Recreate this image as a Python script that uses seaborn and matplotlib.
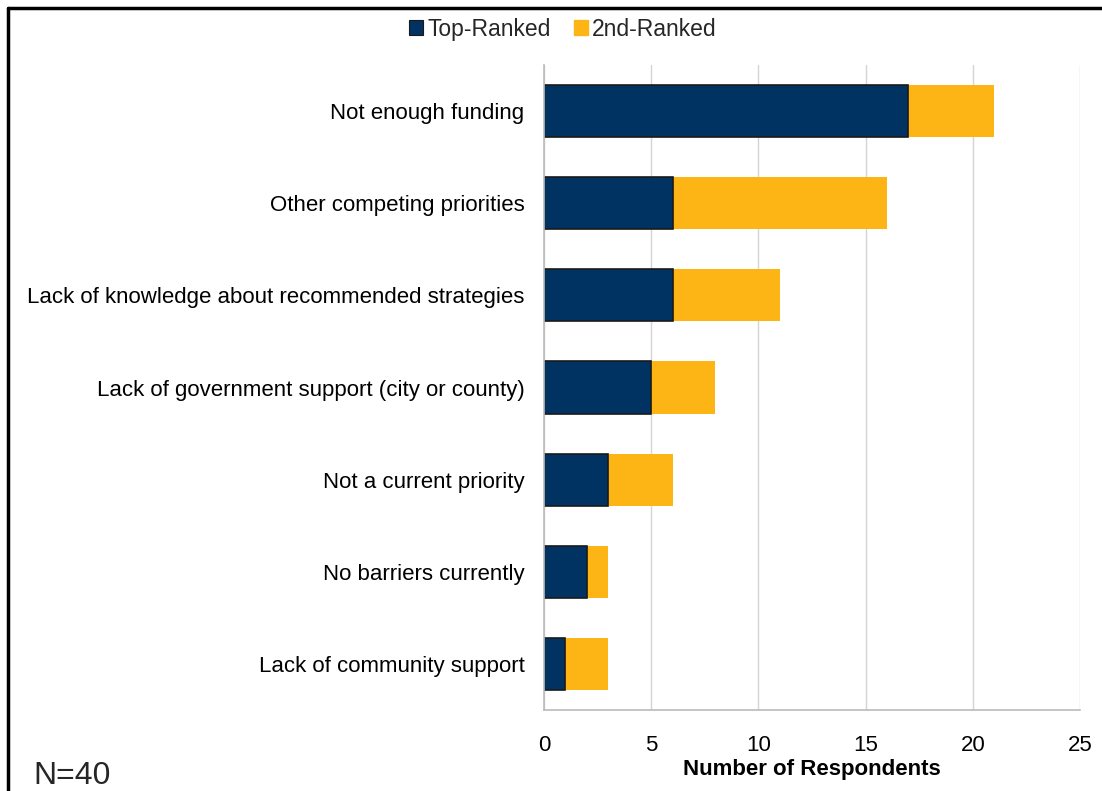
import matplotlib
matplotlib.use("Agg")
import matplotlib.pyplot as plt
import seaborn as sns
import pandas as pd
from matplotlib.lines import Line2D
from matplotlib.patches import Patch

sns.set_theme(style="white")
plt.rcParams["font.family"] = ["Liberation Sans", "DejaVu Sans"]

barriers = [
    "Not enough funding",
    "Other competing priorities",
    "Lack of knowledge about recommended strategies",
    "Lack of government support (city or county)",
    "Not a current priority",
    "No barriers currently",
    "Lack of community support",
]
top_ranked = [17, 6, 6, 5, 3, 2, 1]
second_ranked = [4, 10, 5, 3, 3, 1, 2]
x_ticks = [0, 5, 10, 15, 20, 25]

NAVY = "#003262"
GOLD = "#FDB515"

df = pd.DataFrame({
    "barrier": barriers,
    "top": top_ranked,
    "second": second_ranked,
})
df["total"] = df["top"] + df["second"]

fig = plt.figure(figsize=(11.02, 7.91), dpi=100)
ax = fig.add_axes([0.4936, 0.1024, 0.4864, 0.8154])

# stacked bars: total drawn first (gold), top-ranked over it (navy)
sns.barplot(data=df, x="total", y="barrier", order=barriers, color=GOLD,
            orient="h", width=0.565, saturation=1, ax=ax, linewidth=0)
sns.barplot(data=df, x="top", y="barrier", order=barriers, color=NAVY,
            orient="h", width=0.565, saturation=1, ax=ax,
            edgecolor="#1a1a1a", linewidth=1.2)

ax.set_xlim(0, 25)
ax.set_ylim(6.5, -0.5)
ax.set_xticks(x_ticks)
ax.set_xticklabels([str(t) for t in x_ticks], fontsize=16, color="black")
ax.tick_params(axis="x", length=6, width=1, color="#bbbbbb", pad=12)
ax.tick_params(axis="y", length=0, pad=14, labelsize=16, labelcolor="black")
ax.set_ylabel("")
ax.set_xlabel("Number of Respondents", fontsize=16, fontweight="bold",
              labelpad=2, color="black")
ax.xaxis.grid(True, color="#d4d4d4", linewidth=1)
ax.yaxis.grid(False)
ax.set_axisbelow(True)
for side in ["top", "right"]:
    ax.spines[side].set_visible(False)
for side in ["left", "bottom"]:
    ax.spines[side].set_color("#bbbbbb")
    ax.spines[side].set_linewidth(1.2)

handles = [Patch(facecolor=NAVY, edgecolor="#1a1a1a", linewidth=0.8),
           Patch(facecolor=GOLD, edgecolor=GOLD)]
fig.legend(handles, ["Top-Ranked", "2nd-Ranked"], loc="center",
           bbox_to_anchor=(0.511, 0.963), ncol=2, frameon=False,
           fontsize=16.5, handlelength=0.6, handleheight=0.6,
           handletextpad=0.2, columnspacing=1.0)

fig.text(0.030, 0.0, "N=40", fontsize=23, ha="left", va="bottom")

# frame along the top and left edges of the figure
fig.add_artist(Line2D([8 / 1102, 1.0], [1 - 8 / 791, 1 - 8 / 791],
                      transform=fig.transFigure, color="black", linewidth=2.5))
fig.add_artist(Line2D([8 / 1102, 8 / 1102], [0.0, 1 - 8 / 791],
                      transform=fig.transFigure, color="black", linewidth=2.5))

fig.savefig("out.png", dpi=100, facecolor="white")
